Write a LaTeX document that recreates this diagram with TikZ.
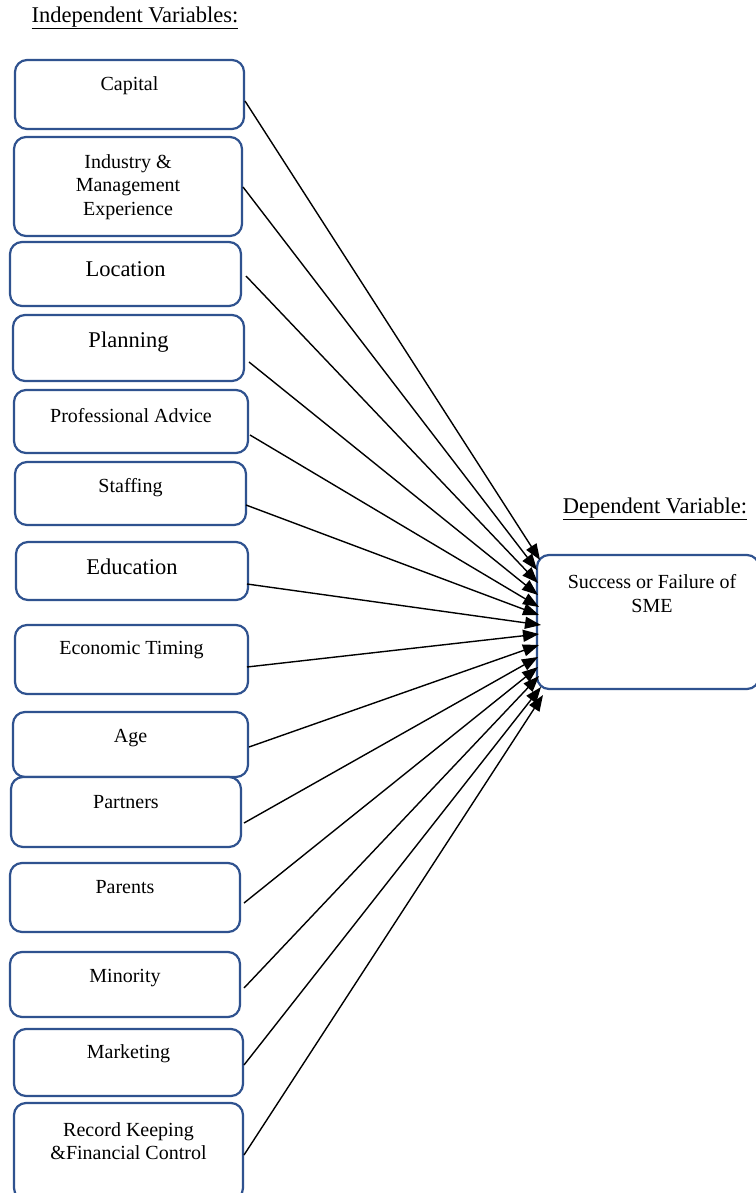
\documentclass[tikz,border=0pt]{standalone}
\usepackage{fontspec}
\setmainfont{Liberation Serif}
\usetikzlibrary{arrows.meta}
\definecolor{boxblue}{RGB}{47,82,143}
\tikzset{
  varbox/.style={draw=boxblue, line width=2.2pt, rounded corners=12pt, inner sep=0pt, fill=white},
  smalltxt/.style={inner sep=0pt, align=center, font=\fontsize{20}{23.5}\selectfont},
  bigtxt/.style={inner sep=0pt, align=center, font=\fontsize{22.5}{26}\selectfont},
  link/.style={line width=1.4pt, -{Triangle[length=16pt,width=12pt]}}
}
\begin{document}
\begin{tikzpicture}[x=1pt,y=-1pt]
\useasboundingbox (0,0) rectangle (755,1193);
\fill[white] (0,0) rectangle (755,1193);
% headings
\node[bigtxt] (hin) at (135,18) {\underline{Independent Variables:}};
\node[bigtxt] (hdep) at (655,509) {\underline{Dependent Variable:}};
% left boxes
\node[varbox, minimum width=229pt, minimum height=69pt] (b1) at (129.5,94.5) {};
\node[varbox, minimum width=228pt, minimum height=99pt] (b2) at (128,186.5) {};
\node[varbox, minimum width=231pt, minimum height=64pt] (b3) at (125.5,274) {};
\node[varbox, minimum width=231pt, minimum height=66pt] (b4) at (128.5,348) {};
\node[varbox, minimum width=234pt, minimum height=63pt] (b5) at (131,421.5) {};
\node[varbox, minimum width=231pt, minimum height=63pt] (b6) at (130.5,493.5) {};
\node[varbox, minimum width=232pt, minimum height=58pt] (b7) at (132,571) {};
\node[varbox, minimum width=233pt, minimum height=69pt] (b8) at (131.5,659.5) {};
\node[varbox, minimum width=235pt, minimum height=65pt] (b9) at (130.5,744.5) {};
\node[varbox, minimum width=230pt, minimum height=70pt] (b10) at (126,812) {};
\node[varbox, minimum width=230pt, minimum height=69pt] (b11) at (125,897.5) {};
\node[varbox, minimum width=230pt, minimum height=65pt] (b12) at (125,984.5) {};
\node[varbox, minimum width=229pt, minimum height=67pt] (b13) at (128.5,1062.5) {};
\node[varbox, minimum width=229pt, minimum height=97pt] (b14) at (128.5,1151.5) {};
% right box
\node[varbox, minimum width=222pt, minimum height=134pt] (dep) at (648,622) {};
% texts
\node[smalltxt] (l1) at (129.5,86) {Capital};
\node[smalltxt] (l2) at (128,187) {Industry \&\\Management\\Experience};
\node[bigtxt] (l3) at (125.5,269) {Location};
\node[bigtxt] (l4) at (128.5,342) {Planning};
\node[smalltxt] (l5) at (131,416) {Professional Advice};
\node[smalltxt] (l6) at (130.5,488) {Staffing};
\node[bigtxt] (l7) at (132,567) {Education};
\node[smalltxt] (l8) at (131.5,650) {Economic Timing};
\node[smalltxt] (l9) at (130.5,738) {Age};
\node[smalltxt] (l10) at (126,802) {Partners};
\node[smalltxt] (l11) at (125,887) {Parents};
\node[smalltxt] (l12) at (125,978) {Minority};
\node[smalltxt] (l13) at (128.5,1054) {Marketing};
\node[smalltxt] (l14) at (128.5,1141) {Record Keeping\\\&Financial Control};
\node[smalltxt] (ldep) at (652,593.5) {Success or Failure of\\SME};
% connector start points
\coordinate (s1) at (245,101);
\coordinate (s2) at (243,187);
\coordinate (s3) at (246,276);
\coordinate (s4) at (249,362);
\coordinate (s5) at (250,435);
\coordinate (s6) at (246,505);
\coordinate (s7) at (247,584);
\coordinate (s8) at (247,667);
\coordinate (s9) at (249,747);
\coordinate (s10) at (244,823);
\coordinate (s11) at (244,903);
\coordinate (s12) at (244,988);
\coordinate (s13) at (244,1065);
\coordinate (s14) at (244,1155);
% tips
\coordinate (t1) at (540,560);
\coordinate (t2) at (537,570);
\coordinate (t3) at (538,583);
\coordinate (t4) at (538,595);
\coordinate (t5) at (539,607);
\coordinate (t6) at (539,615);
\coordinate (t7) at (541,625);
\coordinate (t8) at (539,634);
\coordinate (t9) at (539,645);
\coordinate (t10) at (538,657);
\coordinate (t11) at (538,667);
\coordinate (t12) at (539,676);
\coordinate (t13) at (541,687);
\coordinate (t14) at (543,695);
\foreach \i in {1,...,14}{\draw[link] (s\i) -- (t\i);}
\end{tikzpicture}
\end{document}
